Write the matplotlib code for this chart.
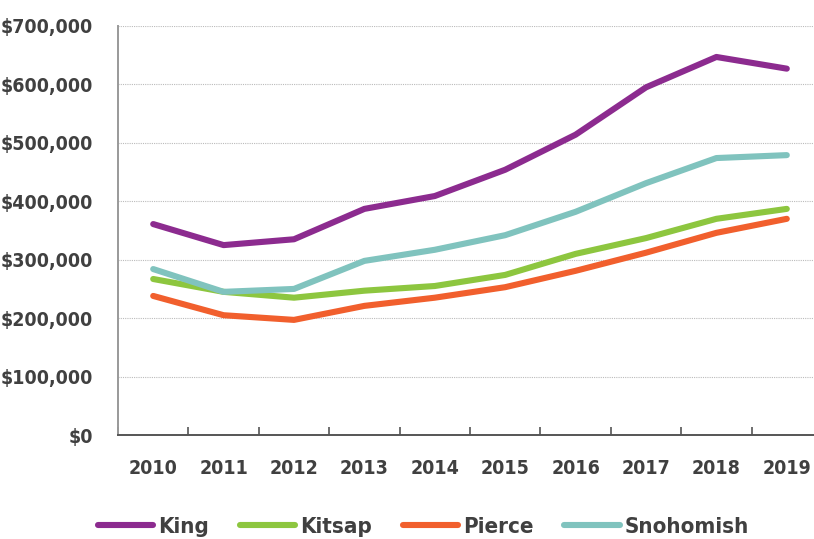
import matplotlib
matplotlib.use('Agg')
import matplotlib.pyplot as plt
from matplotlib.ticker import FuncFormatter, FixedLocator
from matplotlib import font_manager
import numpy as np

years = ['2010', '2011', '2012', '2013', '2014', '2015', '2016', '2017', '2018', '2019']
king = [361000, 325000, 335000, 387000, 409000, 454000, 514000, 595000, 647000, 627000]
kitsap = [267000, 245000, 235000, 247000, 255000, 274000, 310000, 337000, 370000, 387000]
pierce = [238000, 205000, 197000, 221000, 235000, 253000, 281000, 312000, 346000, 370000]
snohomish = [284000, 245000, 250000, 298000, 317000, 342000, 382000, 431000, 474000, 479000]

series = [('King', king, '#8c2b8f'), ('Kitsap', kitsap, '#8dc63f'),
          ('Pierce', pierce, '#f15f2d'), ('Snohomish', snohomish, '#80c3be')]

# condensed bold face for all labels
fp = font_manager.FontProperties(family='DejaVu Sans', stretch='condensed', weight='bold', size=14)
txt = '#404040'

fig = plt.figure(figsize=(8.14, 5.39), dpi=100)
ax = fig.add_axes([118 / 814, 104 / 539, 704 / 814, 409 / 539])

x = np.arange(len(years))
for name, vals, col in series:
    ax.plot(x, vals, color=col, lw=4.4, solid_capstyle='round', label=name)

ax.set_xlim(-0.5, len(years) - 0.5)
ax.set_ylim(0, 700000)
ax.set_yticks(np.arange(0, 700001, 100000))
ax.yaxis.set_major_formatter(FuncFormatter(lambda v, p: '${:,.0f}'.format(v)))
ax.set_xticks(x)
ax.set_xticklabels(years)
ax.xaxis.set_minor_locator(FixedLocator(np.arange(-0.5, len(years), 1.0)))
ax.tick_params(axis='x', which='major', length=0, pad=17, labelcolor=txt)
ax.tick_params(axis='x', which='minor', direction='in', length=6, width=1.2, color='#555555')
ax.tick_params(axis='y', length=0, pad=18, labelcolor=txt)
for lab in ax.get_xticklabels() + ax.get_yticklabels():
    lab.set_fontproperties(fp)
ax.grid(axis='y', linestyle=(0, (1, 1)), color='#bbbbbb', lw=0.8)
ax.set_axisbelow(True)
for s in ['top', 'right']:
    ax.spines[s].set_visible(False)
ax.spines['left'].set_color('#999999')
ax.spines['left'].set_linewidth(1.4)
ax.spines['bottom'].set_color('#555555')
ax.spines['bottom'].set_linewidth(1.4)

lfp = fp.copy()
lfp.set_size(16)
leg = fig.legend(loc='center', bbox_to_anchor=(0.52, 0.022), ncol=4, frameon=False,
                 prop=lfp, handlelength=2.5, handletextpad=0.2, columnspacing=1.4)
for t in leg.get_texts():
    t.set_color(txt)

fig.savefig('out.png', dpi=100)
